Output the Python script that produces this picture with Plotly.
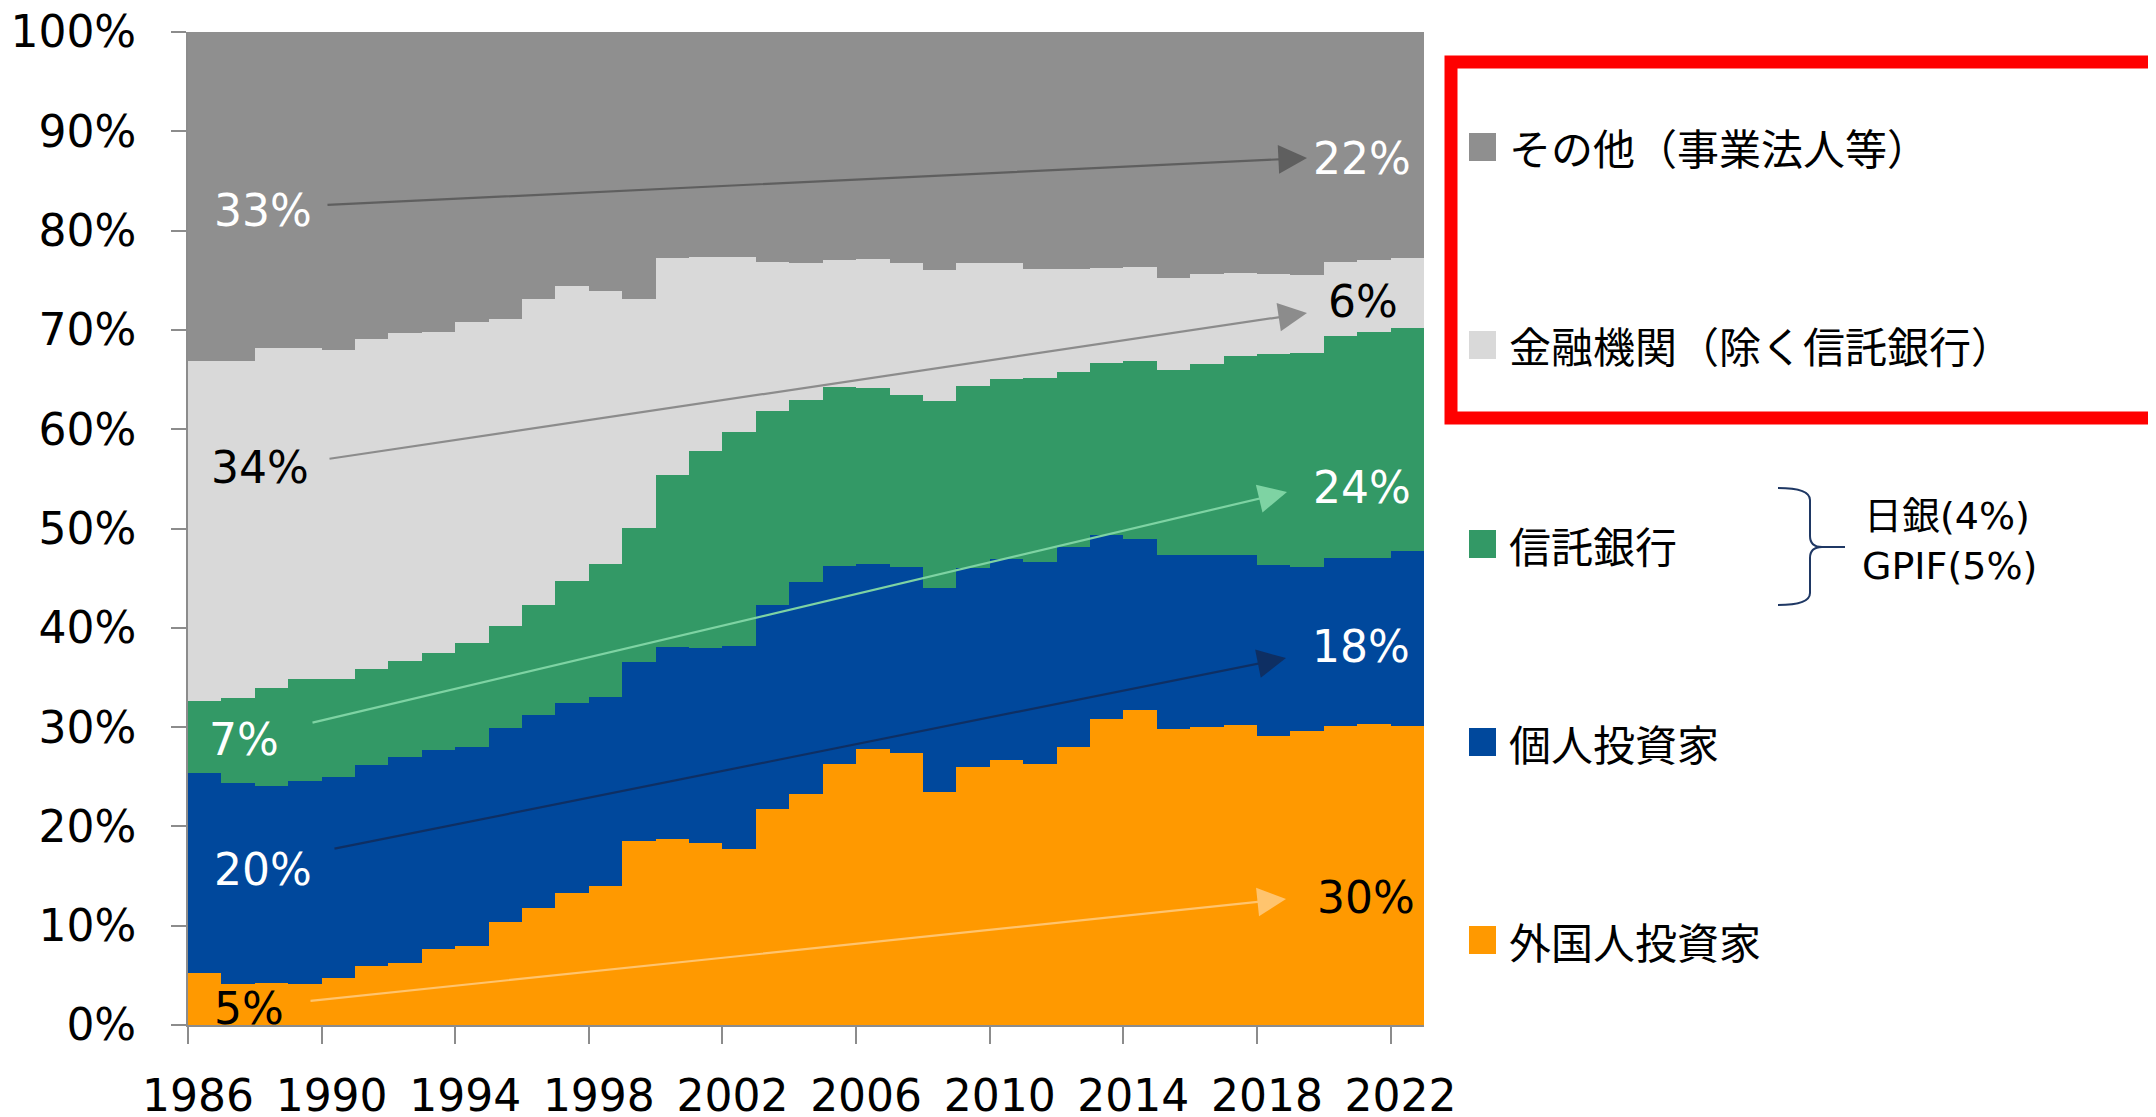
import plotly.graph_objects as go

# shareholder composition, share of market value (%), 1986-2022
years = list(range(1986, 2023))
foreign = [5.2, 4.1, 4.2, 4.1, 4.7, 5.9, 6.2, 7.7, 8.0, 10.4, 11.8, 13.3, 14.0, 18.5, 18.7, 18.3, 17.7, 21.8, 23.3,
           26.3, 27.8, 27.4, 23.5, 26.0, 26.7, 26.3, 28.0, 30.8, 31.7, 29.8, 30.0, 30.2, 29.1, 29.6, 30.1, 30.3, 30.1]
individual = [20.2, 20.3, 19.9, 20.5, 20.3, 20.3, 20.8, 20.0, 20.0, 19.5, 19.4, 19.1, 19.0, 18.1, 19.4, 19.7, 20.5, 20.5,
              21.3, 19.9, 18.6, 18.7, 20.5, 20.0, 20.2, 20.3, 20.1, 18.5, 17.2, 17.5, 17.3, 17.1, 17.2, 16.5, 16.9, 16.7, 17.6]
trust_banks = [7.2, 8.5, 9.8, 10.2, 9.8, 9.7, 9.7, 9.8, 10.5, 10.3, 11.1, 12.3, 13.4, 13.5, 17.3, 19.8, 21.5, 19.5,
               18.3, 18.0, 17.7, 17.3, 18.8, 18.4, 18.2, 18.6, 17.7, 17.4, 18.0, 18.7, 19.3, 20.1, 21.3, 21.6, 22.4, 22.8, 22.5]
financial = [34.3, 34.0, 34.3, 33.4, 33.2, 33.2, 33.0, 32.3, 32.3, 30.9, 30.8, 29.7, 27.5, 23.0, 21.8, 19.5, 17.6, 15.0,
             13.8, 12.8, 13.0, 13.3, 13.2, 12.3, 11.6, 10.9, 10.3, 9.5, 9.4, 9.2, 9.0, 8.3, 8.0, 7.8, 7.4, 7.2, 7.0]
others = [33.1, 33.1, 31.8, 31.8, 32.0, 30.9, 30.3, 30.2, 29.2, 28.9, 26.9, 25.6, 26.1, 26.9, 22.8, 22.7, 22.7, 23.2,
          23.3, 23.0, 22.9, 23.3, 24.0, 23.3, 23.3, 23.9, 23.9, 23.8, 23.7, 24.8, 24.4, 24.3, 24.4, 24.5, 23.2, 23.0, 22.8]

names = ['外国人投資家', '個人投資家', '信託銀行', '金融機関（除く信託銀行）', 'その他（事業法人等）']
colors = ['#ff9900', '#00489c', '#339966', '#d9d9d9', '#8f8f8f']

# start / end shares written on the chart
start_labels = ['5%', '20%', '7%', '34%', '33%']
end_labels = ['30%', '18%', '24%', '6%', '22%']

# page is drawn inside the default 8px body margin
PAGE_OFF = 8
W, H = 2156 - PAGE_OFF, 1117 - PAGE_OFF
L, R, T, B = 188, 1424, 32, 1025  # plot area in page pixels


def px(x):
    return (x - L) / (R - L)


def py(y):
    return (B - y) / (B - T)


fig = go.Figure()
for name, vals, col in zip(names, [foreign, individual, trust_banks, financial, others], colors):
    fig.add_trace(go.Bar(x=years, y=vals, name=name, width=1, offset=0,
                         marker=dict(color=col, line=dict(width=0)), showlegend=False))

num_font = 'Verdana, DejaVu Sans, sans-serif'
jp_font = 'Meiryo, Noto Sans CJK JP, sans-serif'

fig.update_layout(
    barmode='stack',
    bargap=0,
    width=W, height=H,
    margin=dict(l=L - PAGE_OFF, r=W - (R - PAGE_OFF), t=T - PAGE_OFF, b=H - (B - PAGE_OFF), autoexpand=False),
    paper_bgcolor='white',
    plot_bgcolor='white',
    xaxis=dict(
        range=[1986, 2023],
        tickvals=list(range(1986, 2023, 4)),
        ticks='outside', ticklen=17, tickwidth=2, tickcolor='#8c8c8c',
        showline=True, linecolor='#8c8c8c', linewidth=2,
        showgrid=False, zeroline=False,
        tickfont=dict(family=num_font, size=44, color='black'),
        ticklabelstandoff=14, ticklabelshift=10,
        ticklabeloverflow='allow',
    ),
    yaxis=dict(
        range=[0, 100], dtick=10, ticksuffix='%',
        ticks='outside', ticklen=15, tickwidth=2, tickcolor='#8c8c8c',
        showline=True, linecolor='#8c8c8c', linewidth=2,
        showgrid=False, zeroline=False,
        tickfont=dict(family=num_font, size=44, color='black'),
        ticklabelstandoff=26,
        ticklabeloverflow='allow',
    ),
)

# value labels at both ends of each trend arrow
label_colors = ['black', 'white', 'white', 'black', 'white']
start_pos = [(249, 1008), (263, 869), (244, 739), (260, 467), (263, 210)]
end_pos = [(1366, 897), (1361, 646), (1362, 487), (1363, 302), (1362, 159)]
for txt, (x, y), c in zip(start_labels + end_labels, start_pos + end_pos, label_colors + label_colors):
    fig.add_annotation(x=px(x), y=py(y), xref='paper', yref='paper', text=txt, showarrow=False,
                       xanchor='center', yanchor='middle', font=dict(family=num_font, size=44, color=c))

# trend arrows (tail -> head)
arrow_colors = ['#ffc46e', '#0e2f63', '#7ed3a3', '#8c8c8c', '#5f5f5f']
arrows = [((309, 1001), (1286, 899)), ((333, 849), (1286, 658)), ((311, 723), (1287, 492)),
          ((328, 459), (1307, 313)), ((326, 205), (1307, 158))]
for ((tx, ty), (hx, hy)), c in zip(arrows, arrow_colors):
    fig.add_annotation(x=px(hx), y=py(hy), xref='paper', yref='paper', ax=tx - hx, ay=ty - hy,
                       axref='pixel', ayref='pixel', text='', showarrow=True,
                       arrowhead=2, arrowsize=2.6, arrowwidth=2.2, arrowcolor=c, standoff=0)

# custom legend
legend_rows = [940, 742, 544, 345, 147]
for name, col, yc in zip(names, colors, legend_rows):
    fig.add_shape(type='rect', xref='paper', yref='paper', x0=px(1469), x1=px(1496),
                  y0=py(yc + 14), y1=py(yc - 14), fillcolor=col, line=dict(width=0))
    fig.add_annotation(x=px(1507), y=py(yc), xref='paper', yref='paper', text=name, showarrow=False,
                       xanchor='left', yanchor='middle', font=dict(family=jp_font, size=42, color='black'))

# red highlight box around the first two legend rows
fig.add_shape(type='rect', xref='paper', yref='paper', x0=px(1451), x1=px(2220), y0=py(418), y1=py(62),
              line=dict(color='#ff0000', width=13), fillcolor='rgba(0,0,0,0)')

# brace next to 信託銀行
brace = [('M', (1778, 488)), ('Q', (1810, 488)), ('', (1810, 500)), ('L', (1810, 536)),
         ('Q', (1810, 547)), ('', (1822, 547)), ('L', (1845, 547)), ('M', (1822, 547)),
         ('Q', (1810, 547)), ('', (1810, 558)), ('L', (1810, 593)), ('Q', (1810, 605)), ('', (1778, 605))]
path = ' '.join(f'{cmd}{px(x):.5f},{py(y):.5f}' for cmd, (x, y) in brace)
fig.add_shape(type='path', xref='paper', yref='paper', path=path, line=dict(color='#1f3864', width=2))

fig.add_annotation(x=px(1862), y=py(516), xref='paper', yref='paper', text='日銀(4%)', showarrow=False,
                   xanchor='left', yanchor='middle', font=dict(family=num_font + ', Noto Sans CJK JP', size=38, color='black'))
fig.add_annotation(x=px(1860), y=py(566), xref='paper', yref='paper', text='GPIF(5%)', showarrow=False,
                   xanchor='left', yanchor='middle', font=dict(family=num_font, size=38, color='black'))

fig.write_html("out.html")
